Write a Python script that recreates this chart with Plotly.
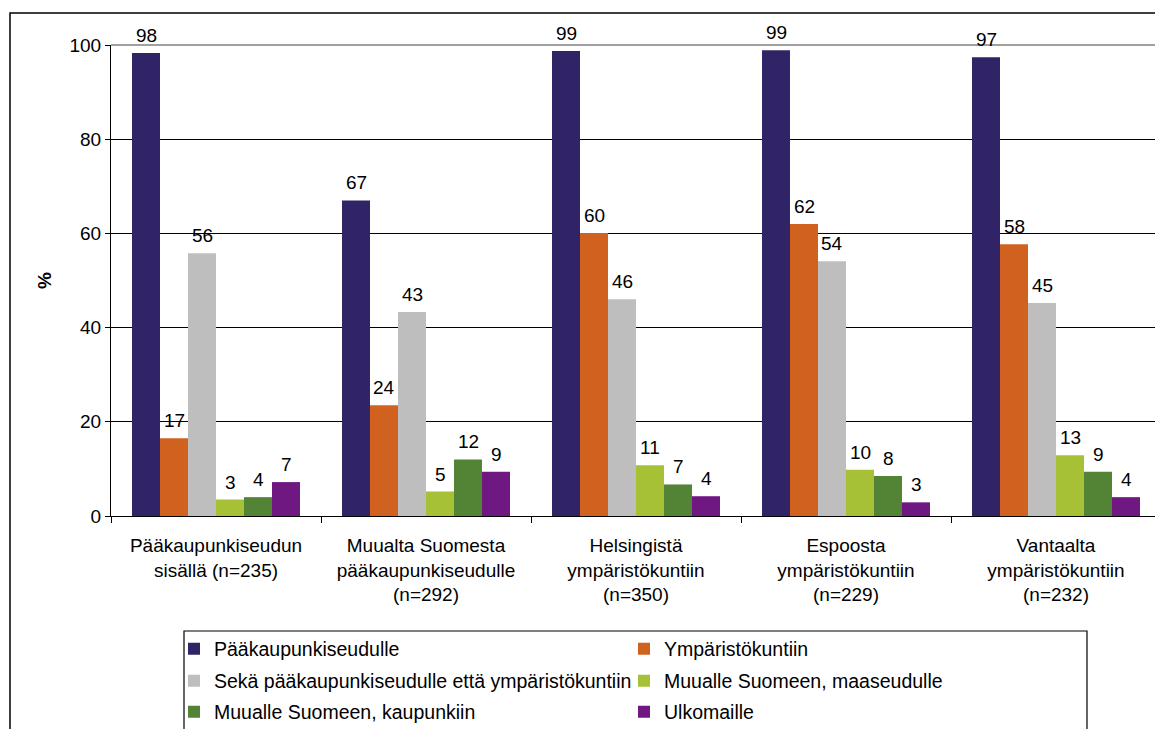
import plotly.graph_objects as go

categories = [
    "Pääkaupunkiseudun<br>sisällä (n=235)",
    "Muualta Suomesta<br>pääkaupunkiseudulle<br>(n=292)",
    "Helsingistä<br>ympäristökuntiin<br>(n=350)",
    "Espoosta<br>ympäristökuntiin<br>(n=229)",
    "Vantaalta<br>ympäristökuntiin<br>(n=232)",
]

series_names = [
    "Pääkaupunkiseudulle",
    "Ympäristökuntiin",
    "Sekä pääkaupunkiseudulle että ympäristökuntiin",
    "Muualle Suomeen, maaseudulle",
    "Muualle Suomeen, kaupunkiin",
    "Ulkomaille",
]

paakaupunkiseudulle = [98.3, 67.0, 98.7, 98.9, 97.4]
ymparistokuntiin = [16.5, 23.5, 60.1, 62.0, 57.7]
seka_molempiin = [55.8, 43.3, 46.0, 54.1, 45.2]
maaseudulle = [3.5, 5.2, 10.8, 9.8, 12.9]
kaupunkiin = [4.0, 12.0, 6.7, 8.5, 9.4]
ulkomaille = [7.2, 9.4, 4.2, 2.9, 4.0]

labels_paak = ["98", "67", "99", "99", "97"]
labels_ymp = ["17", "24", "60", "62", "58"]
labels_seka = ["56", "43", "46", "54", "45"]
labels_maa = ["3", "5", "11", "10", "13"]
labels_kaup = ["4", "12", "7", "8", "9"]
labels_ulk = ["7", "9", "4", "3", "4"]

y_ticks = [0, 20, 40, 60, 80, 100]

series_values = [paakaupunkiseudulle, ymparistokuntiin, seka_molempiin,
                 maaseudulle, kaupunkiin, ulkomaille]
series_labels = [labels_paak, labels_ymp, labels_seka, labels_maa, labels_kaup, labels_ulk]
colors = ["#312466", "#D0611F", "#BEBEBE", "#A7C137", "#538334", "#701881"]
legend_rows = ["legend", "legend", "legend2", "legend2", "legend3", "legend3"]

FONT = "Liberation Sans, Arial, sans-serif"
BARGAP = 0.2

fig = go.Figure()
for name, vals, col, lg in zip(series_names, series_values, colors, legend_rows):
    fig.add_trace(go.Bar(
        name=name, x=categories, y=vals, marker=dict(color=col, line=dict(width=0)),
        legend=lg, hoverinfo="skip",
    ))

# value labels above each bar, placed on the category axis at each bar's slot
n_series = len(series_values)
slot = (1 - BARGAP) / n_series
annotations = []
for i, (vals, labs) in enumerate(zip(series_values, series_labels)):
    for j, (v, lab) in enumerate(zip(vals, labs)):
        annotations.append(dict(
            x=j - (1 - BARGAP) / 2 + slot * (i + 0.5), y=v, xref="x", yref="y",
            text=lab, showarrow=False, xanchor="center", yanchor="bottom",
            yshift=5, font=dict(family=FONT, size=19, color="black"),
        ))

# page body has an 8px margin; work in reference pixel coordinates shifted by it
OFF = 8
W, H = 1163 - OFF, 729 - OFF
ML = 111 - OFF
MT = 45 - OFF
MB = H - (516 - OFF)
MR = W - (1161 - OFF)
pw, ph = W - ML - MR, H - MT - MB

def px_x(x):
    return (x - OFF - ML) / pw

def px_y(y):
    return (H - MB - (y - OFF)) / ph

def legend_row(ycenter):
    return dict(
        orientation="h", x=px_x(174), y=px_y(ycenter), xanchor="left", yanchor="middle",
        entrywidth=405, entrywidthmode="pixels",
        borderwidth=0, bgcolor="rgba(0,0,0,0)",
        font=dict(family=FONT, size=19.5, color="black"),
        itemwidth=30, traceorder="normal",
    )

fig.update_layout(
    width=W, height=H,
    margin=dict(l=ML, r=MR, t=MT, b=MB, autoexpand=False),
    paper_bgcolor="white", plot_bgcolor="white",
    barmode="group", bargap=BARGAP, bargroupgap=0,
    font=dict(family=FONT, size=19, color="black"),
    showlegend=True,
    legend=legend_row(649),
    legend2=legend_row(681),
    legend3=legend_row(712),
    xaxis=dict(
        showline=True, linecolor="black", linewidth=1,
        ticks="outside", tickson="boundaries", ticklen=6, tickcolor="black",
        tickfont=dict(family=FONT, size=19, color="black"),
        ticklabelstandoff=12,
        showgrid=False, fixedrange=True,
    ),
    yaxis=dict(
        range=[0, 100], tickvals=y_ticks, ticktext=[str(v) for v in y_ticks],
        showline=True, linecolor="black", linewidth=1,
        ticks="outside", ticklen=5, tickcolor="black",
        tickfont=dict(family=FONT, size=19, color="black"),
        showgrid=True, gridcolor="black", gridwidth=1,
        zeroline=False,
        title=dict(text="%", font=dict(family=FONT, size=19, color="black", weight="bold"), standoff=12),
    ),
    annotations=annotations,
    shapes=[
        dict(type="line", xref="paper", yref="paper", x0=0, x1=1, y0=1, y1=1,
             line=dict(color="#808080", width=1.5), layer="above"),
        dict(type="line", xref="paper", yref="paper", x0=1, x1=1, y0=0, y1=1,
             line=dict(color="#808080", width=1.5), layer="above"),
        # outer chart border
        dict(type="rect", xref="paper", yref="paper",
             x0=px_x(10), x1=px_x(1175), y0=px_y(13), y1=px_y(745),
             line=dict(color="black", width=1.5), fillcolor="rgba(0,0,0,0)", layer="below"),
        # legend frame
        dict(type="rect", xref="paper", yref="paper",
             x0=px_x(184), x1=px_x(1087), y0=px_y(631), y1=px_y(745),
             line=dict(color="black", width=1.2), fillcolor="rgba(0,0,0,0)", layer="below"),
    ],
)

fig.write_html("out.html")
